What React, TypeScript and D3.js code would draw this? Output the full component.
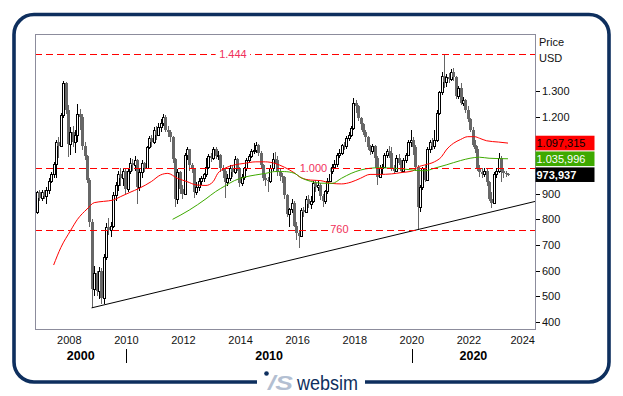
import * as d3 from 'd3';

// chart geometry
const W = 623;
const H = 396;
const plot = { left: 35, right: 535, top: 34, bottom: 329 };

// monthly bars, starting with firstMonth; open = previous close
const firstMonth = '2006-11';
const firstOpen = 830;
// [high, low, close]
const monthlyHLC: [number, number, number][] = [
  // 2006
  [910, 820, 905], [915, 870, 885],
  // 2007
  [915, 870, 905], [915, 880, 890], [925, 860, 915], [960, 900, 950], [985, 940, 975], [1025, 960, 1015],
  [1110, 960, 1100], [1120, 1040, 1085], [1215, 1080, 1205], [1340, 1195, 1330], [1335, 1210, 1225], [1245, 1043, 1095],
  // 2008
  [1160, 1050, 1140], [1165, 1080, 1100], [1150, 1060, 1130], [1250, 1100, 1210], [1230, 1150, 1200], [1210, 1070, 1085],
  [1100, 1030, 1045], [1050, 940, 955], [960, 770, 790], [800, 455, 530], [620, 500, 590], [600, 500, 520],
  // 2009
  [615, 490, 600], [610, 470, 495], [665, 470, 655], [785, 640, 770], [805, 740, 760], [790, 730, 775],
  [905, 765, 895], [945, 870, 935], [990, 910, 975], [1000, 930, 960], [1000, 930, 990], [1000, 900, 920],
  // 2010
  [1000, 905, 990], [1040, 975, 1020], [1035, 990, 1010], [1045, 990, 1030], [1035, 860, 925], [1000, 910, 985],
  [1030, 960, 1020], [1025, 985, 1000], [1085, 995, 1080], [1125, 1075, 1115], [1130, 1080, 1100], [1160, 1095, 1150],
  // 2011
  [1165, 1110, 1130], [1175, 1125, 1160], [1190, 1140, 1175], [1210, 1165, 1200], [1205, 1140, 1150], [1165, 1120, 1140],
  [1150, 1100, 1120], [1125, 1020, 1035], [1040, 848, 880], [995, 860, 985], [990, 900, 920], [935, 880, 900],
  // 2012
  [1060, 895, 1050], [1080, 1030, 1075], [1075, 990, 1010], [1020, 980, 995], [1000, 883, 905], [945, 895, 925],
  [960, 910, 950], [970, 935, 960], [980, 945, 975], [1040, 965, 1005], [1055, 995, 1045], [1060, 1025, 1040],
  // 2013
  [1080, 1030, 1075], [1080, 1035, 1045], [1065, 1030, 1050], [1055, 985, 1000], [1010, 960, 990], [1000, 883, 945],
  [975, 930, 960], [1010, 950, 1000], [1010, 965, 985], [1045, 975, 1035], [1040, 990, 1000], [1005, 925, 940],
  // 2014
  [975, 930, 965], [1005, 955, 1000], [1040, 990, 1030], [1055, 1020, 1045], [1075, 1040, 1065], [1097, 1055, 1070],
  [1100, 1060, 1090], [1095, 1045, 1060], [1065, 1000, 1010], [1015, 950, 960], [975, 930, 955], [965, 906, 950],
  // 2015
  [1010, 940, 1000], [1060, 990, 1035], [1062, 1015, 1030], [1045, 970, 985], [995, 950, 970], [980, 940, 965],
  [970, 880, 895], [900, 810, 820], [845, 770, 840], [880, 825, 865], [870, 770, 775], [790, 720, 745],
  // 2016
  [760, 688, 735], [845, 730, 835], [850, 810, 830], [890, 825, 880], [895, 845, 860], [890, 840, 870],
  [950, 865, 940], [955, 905, 925], [950, 910, 935], [940, 875, 890], [900, 850, 870], [915, 860, 910],
  // 2017
  [960, 900, 950], [1000, 945, 990], [1015, 975, 1005], [1030, 995, 1015], [1060, 1005, 1050], [1075, 1040, 1060],
  [1095, 1050, 1090], [1100, 1070, 1085], [1125, 1075, 1115], [1140, 1105, 1130], [1165, 1120, 1155], [1273, 1150, 1255],
  // 2018
  [1265, 1215, 1240], [1245, 1185, 1195], [1200, 1150, 1170], [1175, 1130, 1140], [1150, 1100, 1120], [1125, 1070, 1080],
  [1090, 1050, 1065], [1095, 1055, 1085], [1090, 1000, 1040], [1045, 934, 965], [1010, 960, 1000], [1015, 975, 1005],
  // 2019
  [1060, 1000, 1050], [1075, 1040, 1065], [1085, 1040, 1060], [1080, 990, 1000], [1010, 975, 990], [1050, 985, 1040],
  [1055, 1010, 1020], [1030, 980, 990], [1040, 985, 1030], [1060, 1020, 1050], [1110, 1045, 1100], [1148, 1080, 1110],
  // 2020
  [1120, 1050, 1080], [1090, 990, 1005], [1010, 758, 850], [935, 830, 925], [1005, 915, 1000], [1010, 945, 955],
  [1080, 950, 1075], [1110, 1060, 1100], [1115, 1070, 1085], [1148, 1075, 1110], [1225, 1100, 1215], [1300, 1205, 1295],
  // 2021
  [1375, 1285, 1360], [1444, 1310, 1335], [1365, 1315, 1355], [1370, 1330, 1345], [1385, 1340, 1375], [1390, 1340, 1355],
  [1360, 1270, 1280], [1320, 1270, 1310], [1330, 1245, 1255], [1275, 1240, 1265], [1270, 1215, 1225], [1240, 1180, 1190],
  // 2022
  [1195, 1140, 1150], [1160, 1080, 1090], [1110, 1060, 1075], [1085, 990, 1000], [1010, 965, 985], [1000, 960, 975],
  [1000, 965, 990], [995, 930, 945], [950, 870, 880], [905, 844, 865], [985, 860, 975], [1000, 960, 990],
  // 2023
  [1058, 980, 1040], [1045, 945, 990], [995, 960, 980], [990, 965, 978], [980, 970, 974],
];

// moving averages
const redAverage: [string, number][] = [
  ['2007-06', 622], ['2007-09', 690], ['2008-01', 755], ['2008-04', 800], ['2008-08', 840], ['2008-11', 865],
  ['2009-03', 870], ['2009-07', 875], ['2009-10', 888], ['2010-02', 905], ['2010-06', 921], ['2010-11', 947],
  ['2011-03', 973], ['2011-06', 979], ['2011-10', 960], ['2012-02', 947], ['2012-06', 934], ['2012-10', 932],
  ['2013-01', 947], ['2013-03', 979], ['2013-06', 999], ['2013-10', 1012], ['2014-02', 1018], ['2014-07', 1024],
  ['2014-11', 1024], ['2015-03', 1018], ['2015-07', 1003], ['2015-11', 982], ['2016-02', 962], ['2016-06', 953],
  ['2016-10', 951], ['2017-03', 940], ['2017-07', 938], ['2017-11', 945], ['2018-03', 960], ['2018-07', 975],
  ['2018-11', 975], ['2019-04', 977], ['2019-08', 982], ['2020-01', 989], ['2020-03', 1003], ['2020-06', 1012],
  ['2020-10', 1024], ['2021-01', 1044], ['2021-03', 1070], ['2021-06', 1096], ['2021-09', 1111], ['2021-12', 1122],
  ['2022-03', 1122], ['2022-05', 1116], ['2022-08', 1106], ['2023-01', 1101], ['2023-05', 1097],
];

const greenAverage: [string, number][] = [
  ['2011-08', 800], ['2012-03', 836], ['2012-10', 880], ['2013-02', 908], ['2013-06', 930], ['2013-10', 951],
  ['2014-02', 964], ['2014-07', 973], ['2014-11', 979], ['2015-03', 986], ['2015-07', 986], ['2015-11', 980],
  ['2016-02', 962], ['2016-06', 948], ['2016-10', 941], ['2017-03', 940], ['2017-07', 960], ['2017-11', 979],
  ['2018-03', 992], ['2018-07', 999], ['2018-11', 1001], ['2019-08', 997], ['2020-01', 992], ['2020-06', 989],
  ['2020-10', 999], ['2021-03', 1012], ['2021-09', 1029], ['2022-01', 1038], ['2022-05', 1042], ['2022-09', 1038],
  ['2023-05', 1036],
];

// horizontal levels and where their labels sit (decimal years)
const levels = [1444, 1000, 760];
const levelLabelYears = [2013.73, 2016.55, 2017.46];

// support line [decimal year, price]
const trendLine: [number, number][] = [[2008.78, 455], [2024.4, 872]];

const priceTicks = [400, 500, 600, 700, 800, 900, 1000, 1100, 1200, 1300];
const yearTicks = [2008, 2010, 2012, 2014, 2016, 2018, 2020, 2022, 2024];
const decades = [2000, 2010, 2020];

const lastRed = 1097.315;
const lastGreen = 1035.996;
const lastClose = 973.937;

const FONT = "'Liberation Sans', Arial, Helvetica, sans-serif";
const NAVY = '#0e2f5e';

const locale = d3.formatLocale({ decimal: ',', thousands: '.', grouping: [3], currency: ['', ''] });
const fmtTick = locale.format(',');
const fmtLast = locale.format(',.3f');

const fromYear = (t: number) => {
  const yr = Math.floor(t);
  const a = new Date(yr, 0, 1).getTime();
  const b = new Date(yr + 1, 0, 1).getTime();
  return new Date(a + (t - yr) * (b - a));
};
const parseMonth = d3.timeParse('%Y-%m');
const midMonth = (s: string) => d3.timeDay.offset(parseMonth(s) as Date, 14);

const x = d3.scaleTime()
  .domain([fromYear(2006.7986), fromYear(2024.3124)])
  .range([plot.left, plot.right]);

const y = d3.scaleLinear().domain([400, 1300]).range([322, 91]);

interface Bar { date: Date; open: number; high: number; low: number; close: number }

const bars: Bar[] = monthlyHLC.map((d, i) => {
  const open = i === 0 ? firstOpen : monthlyHLC[i - 1][2];
  const [h, l, c] = d;
  return {
    date: d3.timeDay.offset(d3.timeMonth.offset(parseMonth(firstMonth) as Date, i), 14),
    open,
    high: Math.max(h, open, c),
    low: Math.min(l, open, c),
    close: c,
  };
});

const maLine = d3.line<[string, number]>()
  .x((d) => x(midMonth(d[0])))
  .y((d) => y(d[1]))
  .curve(d3.curveMonotoneX);

function Candles() {
  return (
    <g shapeRendering="crispEdges">
      {bars.map((b, i) => {
        const cx = Math.round(x(b.date));
        const yH = Math.round(y(b.high));
        const yL = Math.round(y(b.low));
        const yT = Math.round(y(Math.max(b.open, b.close)));
        const yB = Math.round(y(Math.min(b.open, b.close)));
        if (b.close >= b.open) {
          return (
            <g key={i}>
              <line x1={cx + 0.5} x2={cx + 0.5} y1={yH} y2={yL} stroke="#000" />
              <rect x={cx - 0.5} y={yT + 0.5} width={2} height={Math.max(yB - yT, 1)}
                fill="#fff" stroke="#000" />
            </g>
          );
        }
        return (
          <g key={i}>
            <line x1={cx + 0.5} x2={cx + 0.5} y1={yH} y2={yL} stroke="#666" />
            <rect x={cx - 1} y={yT} width={3} height={Math.max(yB - yT, 1)} fill="#676767" />
          </g>
        );
      })}
    </g>
  );
}

function Frame() {
  // rounded navy frame with a gap for the logo at the bottom
  const l = 14, t = 14.5, r = 609, b = 382, rad = 20;
  const gapL = 257, gapR = 365;
  const p = d3.path();
  p.moveTo(gapL, b);
  p.lineTo(l + rad, b);
  p.arcTo(l, b, l, b - rad, rad);
  p.lineTo(l, t + rad);
  p.arcTo(l, t, l + rad, t, rad);
  p.lineTo(r - rad, t);
  p.arcTo(r, t, r, t + rad, rad);
  p.lineTo(r, b - rad);
  p.arcTo(r, b, r - rad, b, rad);
  p.lineTo(gapR, b);
  return (
    <g>
      <path d={p.toString()} fill="none" stroke={NAVY} strokeWidth={3.6} />
      <circle cx={266.5} cy={373.5} r={2.3} fill={NAVY} />
      <text x={268} y={390} fontFamily={FONT} fontSize={20} fontStyle="italic" fontWeight="bold"
        fill="#b3bfd2" textLength={25} lengthAdjust="spacingAndGlyphs">/S</text>
      <text x={297} y={390} fontFamily={FONT} fontSize={20} fill={NAVY}
        textLength={61} lengthAdjust="spacingAndGlyphs">websim</text>
    </g>
  );
}

export default function App() {
  const bounds = [plot.left, x(fromYear(2010)), x(fromYear(2020)), plot.right];
  const trend = trendLine.map(([t, v]) => [x(fromYear(t)), y(v)]);
  const boxes = [
    { v: lastRed, fill: '#ff0000', color: '#000', bold: false },
    { v: lastGreen, fill: '#3ea900', color: '#fff', bold: false },
    { v: lastClose, fill: '#000', color: '#fff', bold: true },
  ];
  // tick labels that the last-value boxes hide are not drawn
  const hidden = (v: number) => boxes.some((b) => Math.abs(y(b.v) - y(v)) < 12);

  return (
    <svg width={W} height={H} style={{ position: 'absolute', left: 0, top: 0, background: '#fff' }}
      fontFamily={FONT}>
      <defs>
        <clipPath id="plotClip">
          <rect x={plot.left} y={plot.top} width={plot.right - plot.left} height={plot.bottom - plot.top} />
        </clipPath>
      </defs>
      <rect width={W} height={H} fill="#fff" />
      <Frame />

      <g clipPath="url(#plotClip)">
        <Candles />
        <path d={maLine(redAverage) ?? ''} fill="none" stroke="#ff0000" strokeWidth={1} />
        <path d={maLine(greenAverage) ?? ''} fill="none" stroke="#3ea900" strokeWidth={1} />
        <line x1={trend[0][0]} y1={trend[0][1]} x2={trend[1][0]} y2={trend[1][1]} stroke="#000" strokeWidth={1} />
        {levels.map((v) => (
          <line key={v} x1={plot.left} x2={plot.right} y1={Math.round(y(v)) + 0.5} y2={Math.round(y(v)) + 0.5}
            stroke="#ff0000" strokeWidth={1.2} strokeDasharray="7,4" />
        ))}
        {levels.map((v, i) => {
          const label = fmtTick(v);
          const cx = x(fromYear(levelLabelYears[i]));
          const w = label.length * 6.1 + 4;
          return (
            <g key={'l' + v}>
              <rect x={cx - w / 2} y={y(v) - 6} width={w} height={12} fill="#fff" />
              <text x={cx} y={y(v)} dy="0.35em" textAnchor="middle" fontSize={11} fill="#f0305a">{label}</text>
            </g>
          );
        })}
      </g>

      <rect x={plot.left + 0.5} y={plot.top + 0.5} width={plot.right - plot.left} height={plot.bottom - plot.top}
        fill="none" stroke="#8c8c9c" strokeWidth={1} />

      {/* price axis */}
      <text x={539} y={42} dy="0.35em" fontSize={11} fill="#111">Price</text>
      <text x={539} y={58} dy="0.35em" fontSize={11} fill="#111">USD</text>
      {priceTicks.map((v) => (
        <g key={v}>
          <line x1={plot.right + 1} x2={plot.right + 5} y1={Math.round(y(v)) + 0.5} y2={Math.round(y(v)) + 0.5}
            stroke="#000" />
          {!hidden(v) && (
            <text x={542} y={y(v)} dy="0.35em" fontSize={11} fill="#111">{fmtTick(v)}</text>
          )}
        </g>
      ))}
      {boxes.map((b) => (
        <g key={b.v}>
          <rect x={plot.right + 0.5} y={y(b.v) - 7.3} width={59} height={14.6} fill={b.fill} />
          <text x={plot.right + 1.5} y={y(b.v)} dy="0.36em" fontSize={11} fill={b.color}
            fontWeight={b.bold ? 'bold' : 'normal'}>{fmtLast(b.v)}</text>
        </g>
      ))}

      {/* time axis */}
      {yearTicks.map((t) => (
        <text key={t} x={Math.min(x(fromYear(t)), plot.right - 12.3)} y={344} textAnchor="middle"
          fontSize={11} fill="#111">{t}</text>
      ))}
      {bounds.slice(1, -1).map((bx, i) => (
        <line key={i} x1={Math.round(bx) + 0.5} x2={Math.round(bx) + 0.5} y1={349} y2={363} stroke="#000" />
      ))}
      {decades.map((d, i) => (
        <text key={d} x={(bounds[i] + bounds[i + 1]) / 2} y={360} textAnchor="middle" fontSize={12.5}
          fontWeight="bold" fill="#000">{d}</text>
      ))}
    </svg>
  );
}
